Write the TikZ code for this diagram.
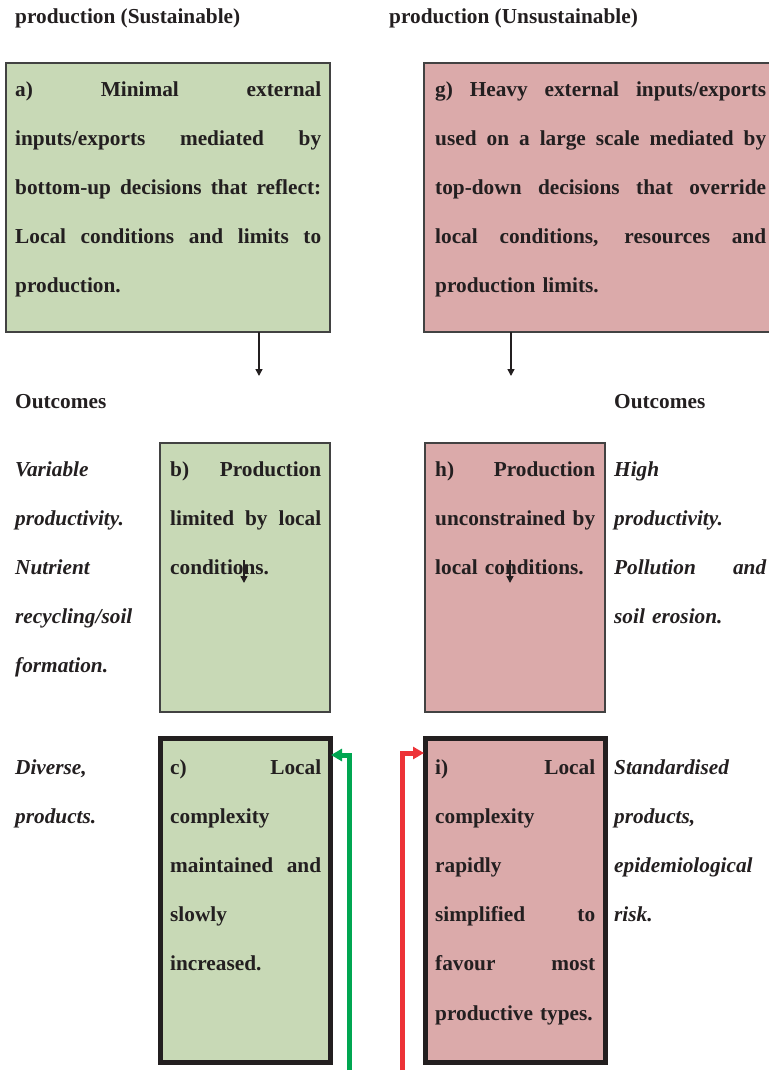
\documentclass[tikz,border=0pt]{standalone}
\usepackage{fontspec}
\setmainfont{Liberation Serif}
\usepackage{xcolor}
\usepackage{tikz}
\usetikzlibrary{arrows.meta, positioning, calc}

\definecolor{sustgreen}{RGB}{200,217,182}
\definecolor{unsustpink}{RGB}{219,170,170}
\definecolor{panelline}{RGB}{66,66,66}
\definecolor{heavyline}{RGB}{35,31,32}
\definecolor{upgreen}{RGB}{0,166,81}
\definecolor{upred}{RGB}{237,50,55}

% one justified line inside a text box
\newcommand{\jline}[1]{\makebox[\hsize][s]{\spaceskip=0.25em plus 10em\relax #1}}

\begin{document}
\begin{tikzpicture}[
    x=1pt, y=-1pt,
    font=\fontsize{21.3}{49.2}\selectfont\bfseries,
    every node/.style={text=heavyline},
    panel/.style={draw=panelline, line width=1.5pt, anchor=north west, inner sep=0pt, outer sep=0pt},
    heavy/.style={draw=heavyline, line width=5pt, anchor=north west, inner sep=0pt, outer sep=0pt},
    txt/.style={anchor=base west, inner sep=0pt, align=left},
    outc/.style={txt, font=\fontsize{21.3}{49.2}\selectfont\bfseries\itshape},
    arr/.style={-{Triangle[length=7pt, width=7pt]}, line width=1.5pt, draw=heavyline, fill=heavyline},
    uparr/.style={-{Triangle[length=11pt, width=12pt]}, line width=5pt, shorten >=1pt},
]
\useasboundingbox (0,0) rectangle (769,1080);
\clip (0,0) rectangle (769,1080);

% headings
\node[txt] (headS) at (15,23) {production (Sustainable)};
\node[txt] (headU) at (389,23) {production (Unsustainable)};

% top boxes
\node[panel, fill=sustgreen, minimum width=324, minimum height=269] (boxa) at (6,63) {};
\node[panel, fill=unsustpink, minimum width=352, minimum height=269] (boxg) at (424,63) {};
\node[txt, text width=306] (texta) at (15,96) {\jline{a) Minimal external}\\
  \jline{inputs/exports mediated by}\\
  \jline{bottom-up decisions that reflect:}\\
  \jline{Local conditions and limits to}\\
  production.};
\node[txt, text width=331] (textg) at (435,96) {\jline{g) Heavy external inputs/exports}\\
  \jline{used on a large scale mediated by}\\
  \jline{top-down decisions that override}\\
  \jline{local conditions, resources and}\\
  production limits.};

\coordinate (aout) at (259,376);
\coordinate (gout) at (511,376);
\draw[arr] (boxa.south -| aout) -- (aout);
\draw[arr] (boxg.south -| gout) -- (gout);

\node[txt] (outS) at (15,408) {Outcomes};
\node[txt] (outU) at (614,408) {Outcomes};

% middle boxes
\node[panel, fill=sustgreen, minimum width=170, minimum height=269] (boxb) at (160,443) {};
\node[panel, fill=unsustpink, minimum width=180, minimum height=269] (boxh) at (425,443) {};
\node[txt, text width=151] (textb) at (170,476) {\jline{b) Production}\\
  \jline{limited by local}\\
  conditions.};
\node[txt, text width=160] (texth) at (435,476) {\jline{h) Production}\\
  \jline{unconstrained by}\\
  local conditions.};
\node[outc, text width=140] (resultb) at (15,476) {Variable\\productivity.\\Nutrient\\recycling/soil\\formation.};
\node[outc, text width=152] (resulth) at (614,476) {High\\productivity.\\\jline{Pollution and}\\soil erosion.};

\coordinate (bfrom) at (244,560);
\coordinate (bto) at (244,583);
\coordinate (hfrom) at (510,560);
\coordinate (hto) at (510,583);
\draw[arr] (bfrom) -- (bto);
\draw[arr] (hfrom) -- (hto);

% bottom boxes
\node[heavy, fill=sustgreen, minimum width=170, minimum height=324] (boxc) at (160,738) {};
\node[heavy, fill=unsustpink, minimum width=180, minimum height=324] (boxi) at (425,738) {};
\node[txt, text width=151] (textc) at (170,774) {\jline{c) Local}\\
  complexity\\
  \jline{maintained and}\\
  slowly\\
  increased.};
\node[txt, text width=160] (texti) at (435,774) {\jline{i) Local}\\
  complexity\\
  rapidly\\
  \jline{simplified to}\\
  \jline{favour most}\\
  productive types.};
\node[outc, text width=140] (resultc) at (15,774) {Diverse,\\products.};
\node[outc, text width=152] (resulti) at (614,774) {Standardised\\products,\\epidemiological\\risk.};

% feedback arrows
\coordinate (gbase) at (349,1070);
\coordinate (gturn) at (349,755);
\coordinate (rbase) at (402,1070);
\coordinate (rturn) at (402,753);
\draw[uparr, upgreen] (gbase) -- (gturn) -- (boxc.east |- gturn);
\draw[uparr, upred] (rbase) -- (rturn) -- (boxi.west |- rturn);
\end{tikzpicture}
\end{document}
